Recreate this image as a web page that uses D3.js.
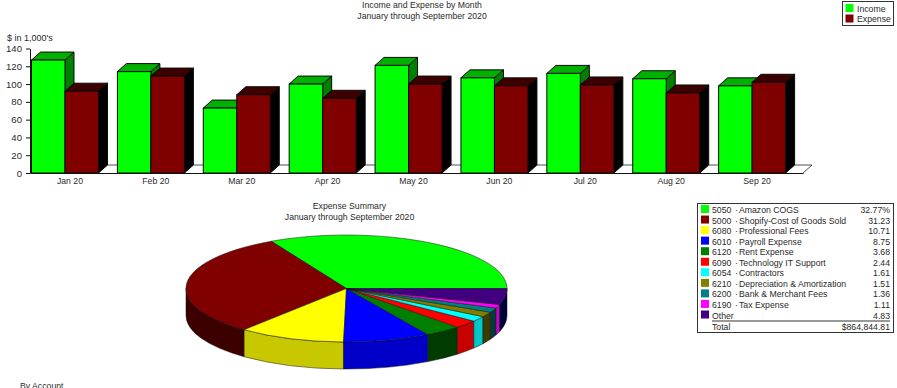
<!DOCTYPE html>
<html>
<head>
<meta charset="utf-8">
<script src="https://cdn.jsdelivr.net/npm/d3@7"></script>
<style>
  html, body { margin: 0; padding: 0; background: #fff; overflow: hidden; }
  svg { display: block; }
  text { font-family: "Liberation Sans", Arial, sans-serif; font-size: 8.7px; fill: #2a2a2a; }
</style>
</head>
<body>
<svg id="chart" width="897" height="388"></svg>
<script>
const months = ['Jan 20', 'Feb 20', 'Mar 20', 'Apr 20', 'May 20', 'Jun 20', 'Jul 20', 'Aug 20', 'Sep 20']
const income = [127, 114, 73, 100, 121, 107, 112, 106, 98]
const expense = [92, 109, 88, 84, 100, 98, 99, 90, 102]
const yTicks = [0, 20, 40, 60, 80, 100, 120, 140]

const codes = ['5050', '5000', '6080', '6010', '6120', '6090', '6054', '6210', '6200', '6190', 'Other']
const accounts = ['Amazon COGS', 'Shopify-Cost of Goods Sold', 'Professional Fees', 'Payroll Expense', 'Rent Expense', 'Technology IT Support', 'Contractors', 'Depreciation & Amortization', 'Bank & Merchant Fees', 'Tax Expense', '']
const shares = [32.77, 31.23, 10.71, 8.75, 3.68, 2.44, 1.61, 1.51, 1.36, 1.11, 4.83]
const shareLabels = ['32.77%', '31.23', '10.71', '8.75', '3.68', '2.44', '1.61', '1.51', '1.36', '1.11', '4.83']
const totalLabel = '$864,844.81'
const topColors = ['#00ff00', '#800000', '#ffff00', '#0000ff', '#008000', '#ff0000', '#00ffff', '#808000', '#008080', '#ff00ff', '#400080']
const sideColors = ['#00c800', '#3c0000', '#c8c800', '#0000c8', '#003c00', '#c80000', '#00c8c8', '#3c3c00', '#003c3c', '#c800c8', '#00003c']

const svg = d3.select('#chart')

// Bar chart
const margin = { top: 48.5, bottom: 173, left: 30, right: 803 }
const depth = { x: 9, y: 8 }

const xScale = d3.scaleBand().domain(months).range([margin.left, margin.right])
const yScale = d3.scaleLinear().domain([0, 140]).range([margin.bottom, margin.top])
const seriesScale = d3.scaleBand().domain(['Income', 'Expense']).range([1.5, 68.5])

// Floor of the 3d box
svg.append('path')
  .attr('d', d3.line()([
    [margin.left, margin.bottom],
    [margin.left + depth.x, margin.bottom - depth.y],
    [margin.right + depth.x, margin.bottom - depth.y],
    [margin.right, margin.bottom]
  ]))
  .attr('fill', '#fff')
  .attr('stroke', '#222')
  .attr('stroke-width', 0.8)

const series = [
  { name: 'Income', values: income, front: '#00ff00', top: '#00b000', side: '#008000' },
  { name: 'Expense', values: expense, front: '#800000', top: '#3c0000', side: '#000000' }
]

// One group per month, expense drawn over income
const bars = svg.append('g')
months.forEach((month, i) => {
  series.forEach(s => {
    const x0 = xScale(month) + seriesScale(s.name)
    const x1 = x0 + seriesScale.bandwidth()
    const yTop = yScale(s.values[i])
    const yBase = yScale(0)
    const g = bars.append('g').attr('stroke', '#0a0a0a').attr('stroke-width', 1)
    g.append('path')
      .attr('fill', s.side)
      .attr('d', d3.line()([[x1, yTop], [x1 + depth.x, yTop - depth.y], [x1 + depth.x, yBase - depth.y], [x1, yBase]]) + 'Z')
    g.append('path')
      .attr('fill', s.top)
      .attr('d', d3.line()([[x0, yTop], [x0 + depth.x, yTop - depth.y], [x1 + depth.x, yTop - depth.y], [x1, yTop]]) + 'Z')
    g.append('rect')
      .attr('x', x0)
      .attr('y', yTop)
      .attr('width', x1 - x0)
      .attr('height', yBase - yTop)
      .attr('fill', s.front)
  })
})

// y axis
const yAxis = d3.axisLeft(yScale).tickValues(yTicks).tickSize(4).tickPadding(4).tickSizeOuter(0)
const yGroup = svg.append('g')
  .attr('transform', `translate(${margin.left}, 0)`)
  .call(yAxis)
yGroup.selectAll('text').style('font-size', '9.6px')
yGroup.selectAll('line, path').attr('stroke', '#111')

// x axis
const xAxis = d3.axisBottom(xScale).tickSize(0).tickPadding(5).tickSizeOuter(0)
const xGroup = svg.append('g')
  .attr('transform', `translate(0, ${margin.bottom})`)
  .call(xAxis)
xGroup.selectAll('path').attr('stroke', '#111')
xGroup.selectAll('text').attr('dx', -3)

svg.append('text').attr('x', 7).attr('y', 41).style('font-size', '9px').text("$ in 1,000's")

// Titles
const title = (lines, x, y) => {
  lines.forEach((line, i) => {
    svg.append('text')
      .attr('x', x)
      .attr('y', y + i * 10.5)
      .attr('text-anchor', 'middle')
      .text(line)
  })
}
title(['Income and Expense by Month', 'January through September 2020'], 422, 8)
title(['Expense Summary', 'January through September 2020'], 349.5, 209)

// Top legend
const topLegend = svg.append('g').attr('transform', 'translate(842, 1)')
topLegend.append('rect')
  .attr('x', 0.5).attr('y', 0.5).attr('width', 51).attr('height', 24)
  .attr('fill', '#fff').attr('stroke', '#333')
series.forEach((s, i) => {
  topLegend.append('rect')
    .attr('x', 3.5).attr('y', 3 + i * 10.5).attr('width', 8).attr('height', 8).attr('fill', s.front)
  topLegend.append('text')
    .attr('x', 15).attr('y', 10.5 + i * 10.5).text(s.name)
})

// Pie chart, tilted by squashing a flat arc
const pieCenter = { x: 346.5, y: 288.5 }
const rx = 160.5
const ry = 53.5
const thickness = 27

const slices = d3.pie().sort(null).startAngle(Math.PI / 2).endAngle(-1.5 * Math.PI)(shares)
const arc = d3.arc().innerRadius(0).outerRadius(rx)
const rim = (a, dy) => [pieCenter.x + rx * Math.sin(a), pieCenter.y - ry * Math.cos(a) + dy]

// Side wall only shows on the front half of the ellipse
const sides = svg.append('g')
slices.forEach((d, i) => {
  const a0 = Math.min(d.startAngle, -Math.PI / 2)
  const a1 = d.endAngle
  if (a1 >= a0) return
  const t0 = rim(a0, 0)
  const t1 = rim(a1, 0)
  const b0 = rim(a0, thickness)
  const b1 = rim(a1, thickness)
  sides.append('path')
    .attr('fill', sideColors[i])
    .attr('stroke', '#111')
    .attr('stroke-width', 0.5)
    .attr('d', `M${t0}A${rx},${ry} 0 0 0 ${t1}L${b1}A${rx},${ry} 0 0 1 ${b0}Z`)
})

svg.append('g')
  .attr('transform', `translate(${pieCenter.x}, ${pieCenter.y}) scale(1, ${ry / rx})`)
  .selectAll('path')
  .data(slices)
  .join('path')
  .attr('d', arc)
  .attr('fill', (d, i) => topColors[i])
  .attr('stroke', '#111')
  .attr('stroke-width', 0.5)
  .attr('vector-effect', 'non-scaling-stroke')

// Table legend
const rowY = d3.scaleLinear().domain([0, 1]).range([213, 223.55])
const table = svg.append('g')
table.append('rect')
  .attr('x', 697.5).attr('y', 203.5).attr('width', 196).attr('height', 129)
  .attr('fill', '#fff').attr('stroke', '#333')
codes.forEach((code, i) => {
  table.append('rect')
    .attr('x', 701).attr('y', rowY(i) - 8).attr('width', 8).attr('height', 8)
    .attr('fill', topColors[i])
  const row = table.append('text').attr('x', 712).attr('y', rowY(i))
  row.append('tspan').text(code)
  if (accounts[i]) {
    row.append('tspan').attr('x', 735).text('·')
    row.append('tspan').attr('x', 739).text(accounts[i])
  }
  table.append('text')
    .attr('x', 890).attr('y', rowY(i)).attr('text-anchor', 'end')
    .text(shareLabels[i])
})
table.append('line')
  .attr('x1', 712).attr('x2', 890).attr('y1', 321).attr('y2', 321)
  .attr('stroke', '#333')
table.append('text').attr('x', 712).attr('y', 329.5).text('Total')
table.append('text').attr('x', 890).attr('y', 329.5).attr('text-anchor', 'end').text(totalLabel)

// Cut off by the bottom of the page, same as the source
svg.append('text').attr('x', 20).attr('y', 389).text('By Account')
</script>
</body>
</html>
